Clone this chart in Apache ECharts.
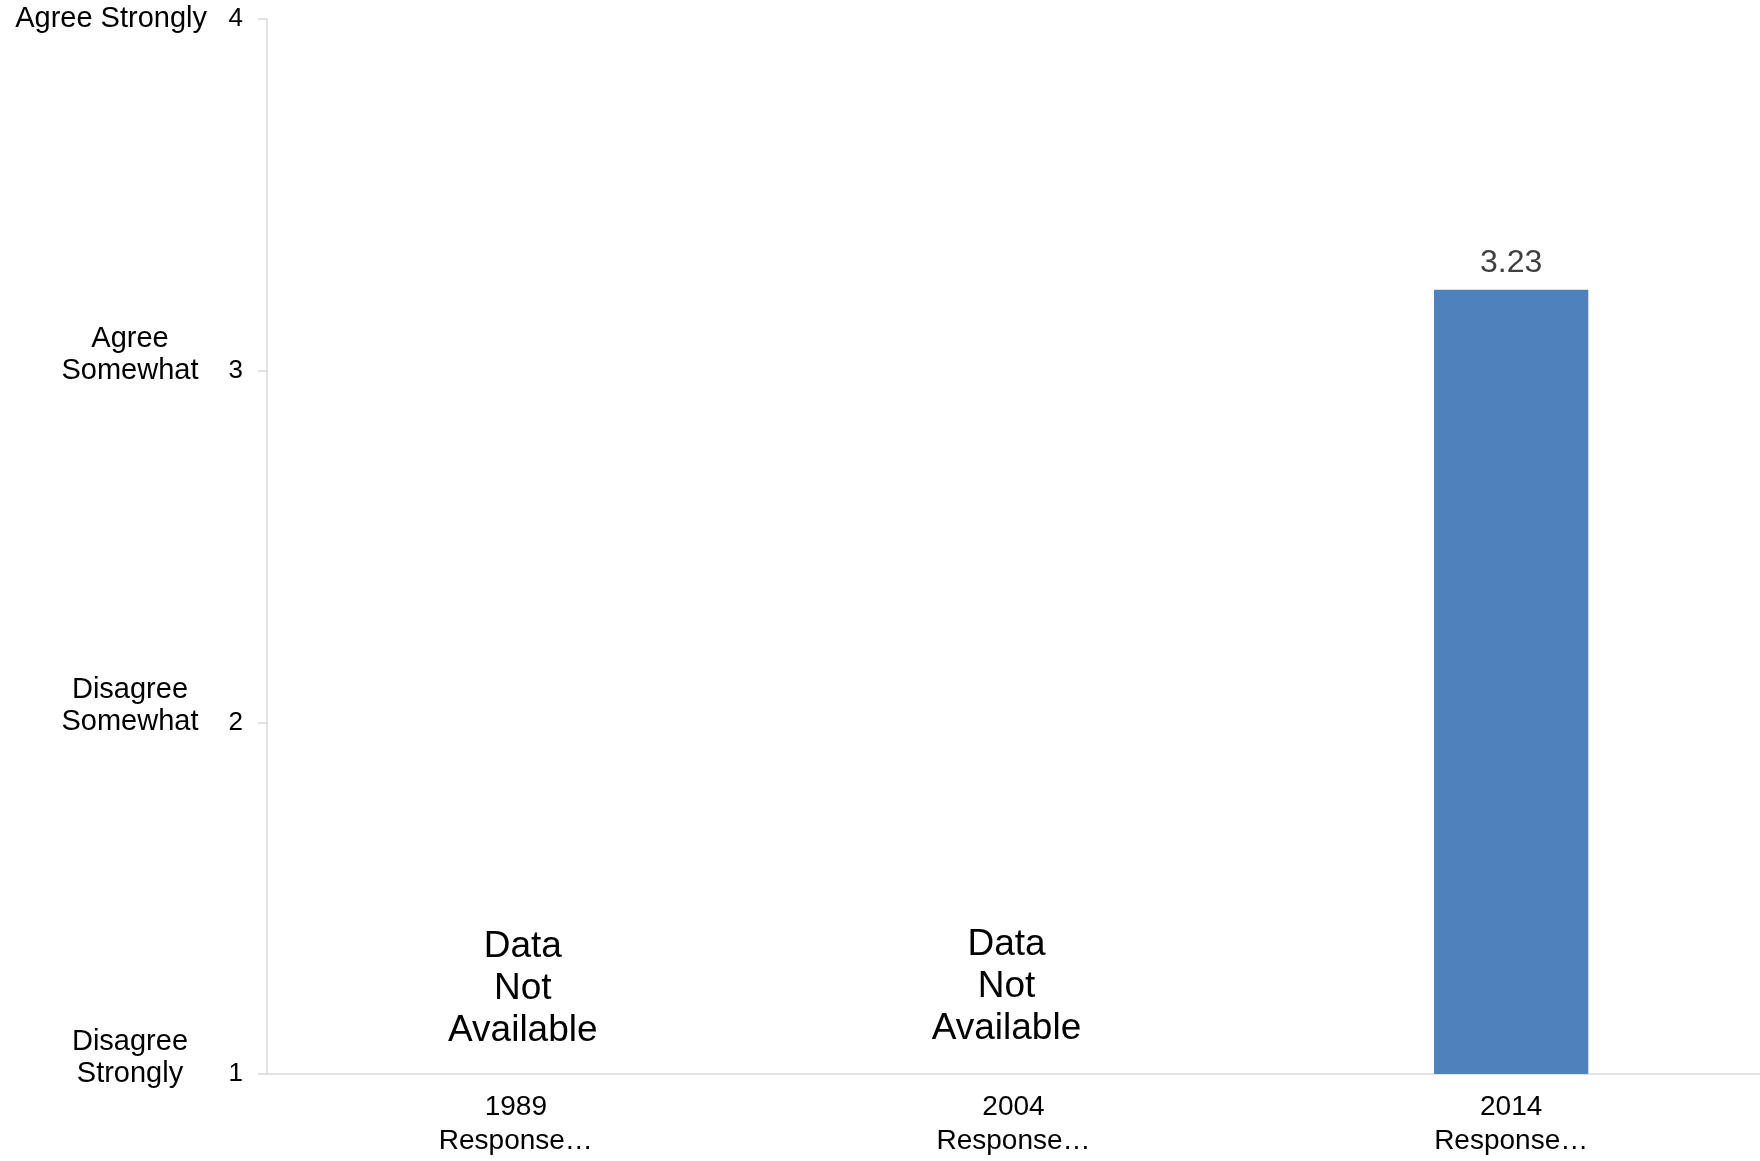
<!DOCTYPE html>
<html>
<head>
<meta charset="utf-8">
<script src="https://cdn.jsdelivr.net/npm/echarts@6/dist/echarts.min.js"></script>
<style>
html,body{margin:0;padding:0;background:#fff;}
#chart{width:1760px;height:1161px;}
</style>
</head>
<body>
<div id="chart"></div>
<script>
const categories = ['1989\nResponse…', '2004\nResponse…', '2014\nResponse…'];
const values = [null, null, 3.23];
const yTicks = [1, 2, 3, 4];
const yDescriptors = ['Disagree\nStrongly', 'Disagree\nSomewhat', 'Agree\nSomewhat', 'Agree Strongly'];
const naText = 'Data\nNot\nAvailable';

const yMin = 1, yMax = 4, yInterval = 1;
const FONT = '"Liberation Sans", Arial, sans-serif';

// small horizontal nudges of the "Data Not Available" notes, as in the original
const naNudge = [7, -7, 0];
const naData = values.map((v, i) => v == null
  ? {value: yMin, label: {offset: [naNudge[i], i === 0 ? 2 : 0]}}
  : null);

const chart = echarts.init(document.getElementById('chart'), null, {renderer: 'canvas'});
chart.setOption({
  animation: false,
  backgroundColor: '#ffffff',
  grid: {left: 267, right: 0, top: 19, bottom: 87, containLabel: false},
  xAxis: {
    type: 'category',
    data: categories,
    axisLine: {show: true, lineStyle: {color: '#d9d9d9', width: 1.5}},
    axisTick: {show: false},
    axisLabel: {color: '#000', fontFamily: FONT, fontSize: 28, lineHeight: 34, margin: 16, interval: 0}
  },
  yAxis: [
    {
      type: 'value', min: yMin, max: yMax, interval: yInterval,
      splitLine: {show: false},
      axisLine: {show: true, lineStyle: {color: '#d9d9d9', width: 1.5}},
      axisTick: {show: true, length: 9, lineStyle: {color: '#d9d9d9', width: 1.5}},
      axisLabel: {color: '#000', fontFamily: FONT, fontSize: 26, margin: 24}
    },
    {
      type: 'value', min: yMin, max: yMax, interval: yInterval, position: 'left',
      splitLine: {show: false}, axisLine: {show: false}, axisTick: {show: false},
      axisLabel: {
        margin: 60, align: 'right', verticalAlign: 'middle',
        formatter: function (v) {
          const i = yTicks.indexOf(v);
          if (i < 0) return '';
          const parts = yDescriptors[i].split('\n');
          if (parts.length === 1) return '{y|' + parts[0] + '}';
          return parts.map(p => '{x|' + p + '}').join('\n') + '\n{x| }';
        },
        rich: {
          x: {fontFamily: FONT, fontSize: 29, lineHeight: 32, color: '#000', width: 154, align: 'center'},
          y: {fontFamily: FONT, fontSize: 29, lineHeight: 32, color: '#000'}
        }
      }
    }
  ],
  series: [
    {
      type: 'bar',
      data: values,
      barWidth: '31%',
      itemStyle: {color: '#4f81bd'},
      label: {show: true, position: 'top', distance: 11, color: '#404040', fontFamily: FONT, fontSize: 32,
        formatter: p => p.value == null ? '' : p.value.toFixed(2)}
    },
    {
      type: 'bar',
      data: naData,
      barWidth: '31%',
      barGap: '-100%',
      itemStyle: {color: 'transparent'},
      label: {show: true, position: 'top', distance: 24, color: '#000', fontFamily: FONT, fontSize: 37, lineHeight: 42,
        formatter: () => naText}
    }
  ]
});
</script>
</body>
</html>
